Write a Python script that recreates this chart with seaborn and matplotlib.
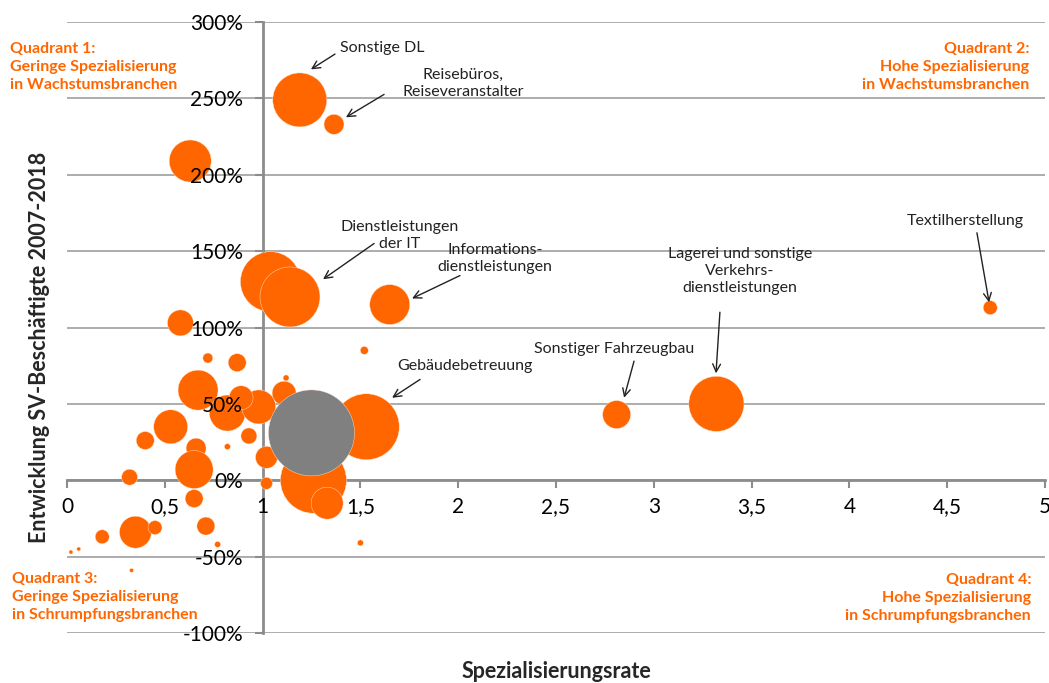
import matplotlib
matplotlib.use('Agg')
import matplotlib.pyplot as plt
import matplotlib.ticker as mticker
import seaborn as sns
import pandas as pd

# Spezialisierungsrate, Entwicklung SV-Beschäftigte (%), Beschäftigte (relative Größe)
spez = [1.19, 1.365, 0.63, 1.04, 1.14, 1.65, 4.72, 3.32, 2.81, 1.53,
        1.26, 1.33, 0.58, 0.72, 0.87, 0.67, 1.52, 1.12, 1.11, 0.82,
        0.98, 0.93, 0.89, 0.53, 0.40, 0.66, 0.82, 0.65, 1.02, 0.32,
        1.02, 0.65, 0.71, 0.77, 0.35, 0.45, 0.18, 0.06, 0.02, 0.33,
        1.50, 1.25]
entw = [249, 233, 209, 130, 120, 115, 113, 50, 43, 35,
        0, -15, 103, 80, 77, 59, 85, 67, 57, 44,
        48, 29, 54, 35, 26, 21, 22, 7, 15, 2,
        -2, -12, -30, -42, -34, -31, -37, -45, -47, -59,
        -41, 31]
besch = [729, 100, 441, 900, 900, 400, 49, 760, 196, 1089,
         1089, 256, 169, 25, 81, 400, 16, 9, 144, 324,
         289, 64, 144, 289, 81, 100, 9, 361, 121, 64,
         36, 81, 81, 9, 256, 49, 49, 4, 4, 4,
         9, 1849]
gruppe = ['Branche'] * 41 + ['Gesamt']

df = pd.DataFrame({'spez': spez, 'entw': entw, 'besch': besch, 'gruppe': gruppe})

sns.set_style('white')
plt.rcParams['font.family'] = ['Lato', 'DejaVu Sans']

orange = '#FF6600'
W, H = 1049, 683
fig = plt.figure(figsize=(W / 100, H / 100), dpi=100)
pos = [67 / W, 1 - 633 / H, (1045 - 67) / W, (633 - 22) / H]
ax = fig.add_axes(pos)

smax = 1849
sns.scatterplot(data=df, x='spez', y='entw', size='besch', hue='gruppe',
                palette={'Branche': orange, 'Gesamt': '#808080'},
                sizes=(0, 2.0736 * smax), size_norm=(0, smax),
                edgecolor='#FFE6D5', linewidth=0.3, alpha=1, legend=False, ax=ax, zorder=2)

ax.set_xlim(0, 5)
ax.set_ylim(-100, 300)
ax.set_xticks([0, 0.5, 1, 1.5, 2, 2.5, 3, 3.5, 4, 4.5, 5])
ax.set_yticks(range(-100, 301, 50))
ax.set_axisbelow(True)
ax.yaxis.grid(True, color='#A6A6A6', lw=1.3)
ax.xaxis.grid(False)
for s in ['top', 'right']:
    ax.spines[s].set_visible(False)
ax.spines['left'].set_position(('data', 1))
ax.spines['bottom'].set_position(('data', 0))
for s in ['left', 'bottom']:
    ax.spines[s].set_color('#8C8C8C')
    ax.spines[s].set_linewidth(2)
    ax.spines[s].set_zorder(0.6)
ax.tick_params(axis='both', direction='out', length=6, width=1.5, color='#8C8C8C',
               labelleft=False, labelbottom=False, left=True, bottom=True)
ax.set_xlabel('')
ax.set_ylabel('')

# overlay for tick labels drawn above the bubbles
ax2 = fig.add_axes(pos, sharex=ax, sharey=ax)
ax2.patch.set_visible(False)
for s in ['top', 'right']:
    ax2.spines[s].set_visible(False)
ax2.spines['left'].set_position(('data', 1))
ax2.spines['bottom'].set_position(('data', 0))
for s in ['left', 'bottom']:
    ax2.spines[s].set_color('none')
ax2.tick_params(axis='y', length=0, pad=14, labelsize=15, colors='black')
ax2.tick_params(axis='x', length=0, pad=12, labelsize=15, colors='black')
ax2.yaxis.set_major_formatter(mticker.FuncFormatter(lambda v, p: f'{v:.0f}%'))
ax2.xaxis.set_major_formatter(mticker.FuncFormatter(lambda v, p: f'{v:g}'.replace('.', ',')))
ax2.grid(False)

# annotations
notes = [
    ('Sonstige DL', (1.396, 283), (1.370, 279), (1.247, 269), 'left'),
    ('Reisebüros,\nReiseveranstalter', (2.025, 260), (1.621, 252.6), (1.426, 237.6), 'center'),
    ('Dienstleistungen\nder IT', (1.702, 160), (1.570, 155), (1.309, 131.6), 'center'),
    ('Informations-\ndienstleistungen', (2.188, 145), (2.009, 134), (1.764, 119), 'center'),
    ('Lagerei und sonstige\nVerkehrs-\ndienstleistungen', (3.441, 137), (3.338, 110), (3.318, 70), 'center'),
    ('Sonstiger Fahrzeugbau', (2.797, 86), (2.899, 78), (2.848, 54), 'center'),
    ('Gebäudebetreuung', (2.035, 75), (1.805, 66), (1.662, 54), 'center'),
    ('Textilherstellung', (4.591, 170), (4.652, 162), (4.714, 116.5), 'center'),
]
for txt, tp, tail, head, ha in notes:
    ax2.text(tp[0], tp[1], txt, ha=ha, va='center', fontsize=11.5, color='#222222',
             linespacing=1.3)
    ax2.annotate('', xy=head, xytext=tail,
                 arrowprops=dict(arrowstyle='->', color='#222222', lw=1,
                                 shrinkA=0, shrinkB=0, mutation_scale=14))

# quadrant labels
qkw = dict(fontsize=11.5, fontweight='bold', color=orange, linespacing=1.4, va='center')
fig.text(10 / W, 1 - 67 / H, 'Quadrant 1:\nGeringe Spezialisierung\nin Wachstumsbranchen', ha='left', **qkw)
fig.text(1029 / W, 1 - 67 / H, 'Quadrant 2:\nHohe Spezialisierung\nin Wachstumsbranchen', ha='right', multialignment='right', **qkw)
fig.text(12 / W, 1 - 597 / H, 'Quadrant 3:\nGeringe Spezialisierung\nin Schrumpfungsbranchen', ha='left', **qkw)
fig.text(1031 / W, 1 - 598 / H, 'Quadrant 4:\nHohe Spezialisierung\nin Schrumpfungsbranchen', ha='right', multialignment='right', **qkw)

fig.text(40 / W, 1 - 347 / H, 'Entwicklung SV-Beschäftigte 2007-2018', rotation=90,
         ha='center', va='center', fontsize=15.5, fontweight='bold')
fig.text(556 / W, 1 - 672 / H, 'Spezialisierungsrate', ha='center', va='center',
         fontsize=15.5, fontweight='bold')

fig.savefig('out.png', dpi=100)
